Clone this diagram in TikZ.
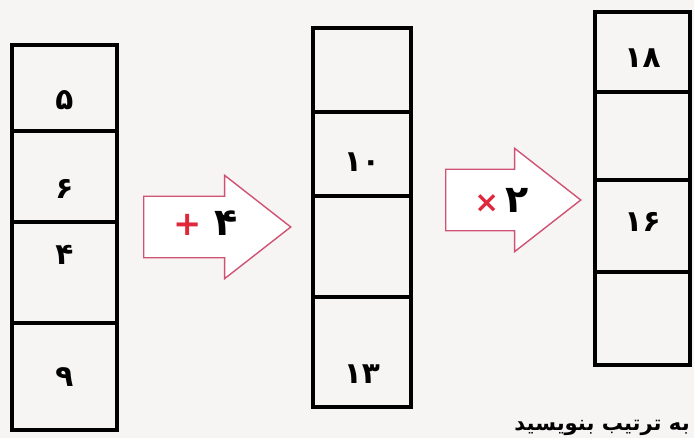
\documentclass[tikz,border=0pt]{standalone}
\usepackage{fontspec}
\usepackage{tikz}
\usetikzlibrary{shapes.arrows, positioning}
\TeXXeTstate=1
\newfontfamily\digitfont{DejaVu Sans}
\newfontfamily\persianfont[Script=Arabic]{DejaVu Sans}
\definecolor{paper}{HTML}{F7F4F4}
\definecolor{arrowpink}{HTML}{CF5474}
\definecolor{opred}{HTML}{E0283C}

\begin{document}
\begin{tikzpicture}[
    x=0.025cm, y=-0.025cm,
    cell/.style={draw, line width=2.4pt, outer sep=0pt, inner sep=0pt},
    digit/.style={font=\digitfont\bfseries\fontsize{21}{24}\selectfont, inner sep=0pt},
    oparrow/.style={single arrow, draw=arrowpink, line width=1pt, fill=white,
        single arrow head extend=0.525cm, single arrow tip angle=76, inner sep=0pt,
        minimum width=2.5cm, font=\digitfont\bfseries\fontsize{27}{30}\selectfont}
]
    \fill[paper] (0,0) rectangle (694,438);
    \clip (0,0) rectangle (694,438);

    % first column
    \node[cell, minimum width=2.625cm, minimum height=2.15cm, anchor=north] (a1) at (64.5,45) {};
    \node[cell, minimum width=2.625cm, minimum height=2.275cm, below=0pt of a1] (a2) {};
    \node[cell, minimum width=2.625cm, minimum height=2.525cm, below=0pt of a2] (a3) {};
    \node[cell, minimum width=2.625cm, minimum height=2.675cm, below=0pt of a3] (a4) {};
    \node[digit, yshift=-0.3cm] (d5) at (a1) {۵};
    \node[digit, yshift=-0.3cm] (d6) at (a2) {۶};
    \node[digit, yshift=0.45cm] (d4) at (a3) {۴};
    \node[digit] (d9) at (a4) {۹};

    % second column
    \node[cell, minimum width=2.45cm, minimum height=2.1cm, anchor=north] (b1) at (362,28) {};
    \node[cell, minimum width=2.45cm, minimum height=2.1cm, below=0pt of b1] (b2) {};
    \node[cell, minimum width=2.45cm, minimum height=2.525cm, below=0pt of b2] (b3) {};
    \node[cell, minimum width=2.45cm, minimum height=2.75cm, below=0pt of b3] (b4) {};
    \node[digit, yshift=-0.2cm] (d10) at (b2) {۱۰};
    \node[digit, yshift=-0.55cm] (d13) at (b4) {۱۳};

    % third column
    \node[cell, minimum width=2.375cm, minimum height=2cm, anchor=north] (c1) at (642.5,12) {};
    \node[cell, minimum width=2.375cm, minimum height=2.2cm, below=0pt of c1] (c2) {};
    \node[cell, minimum width=2.375cm, minimum height=2.3cm, below=0pt of c2] (c3) {};
    \node[cell, minimum width=2.375cm, minimum height=2.325cm, below=0pt of c3] (c4) {};
    \node[digit, yshift=-0.15cm] (d18) at (c1) {۱۸};
    \node[digit, yshift=0.1cm] (d16) at (c3) {۱۶};

    % operation arrows
    \node[oparrow, minimum height=3.675cm, anchor=tail, text height=0.95cm, text depth=0.55cm] (plus) at (143,227)
        {\hspace*{0.4cm}\textcolor{opred}{\fontsize{24}{26}\selectfont +}\hspace{0.3cm}۴};
    \node[oparrow, minimum height=3.375cm, anchor=tail, text height=1.05cm, text depth=0.45cm] (times) at (445,200)
        {\hspace*{0.4cm}\textcolor{opred}{\fontsize{21}{24}\selectfont ×}\,۲};

    % heading at the foot
    \node[font=\persianfont\bfseries\fontsize{15}{18}\selectfont, anchor=south east, inner sep=0pt] (hint) at (690,436)
        {\beginR به ترتیب بنویسید\endR};
\end{tikzpicture}
\end{document}
